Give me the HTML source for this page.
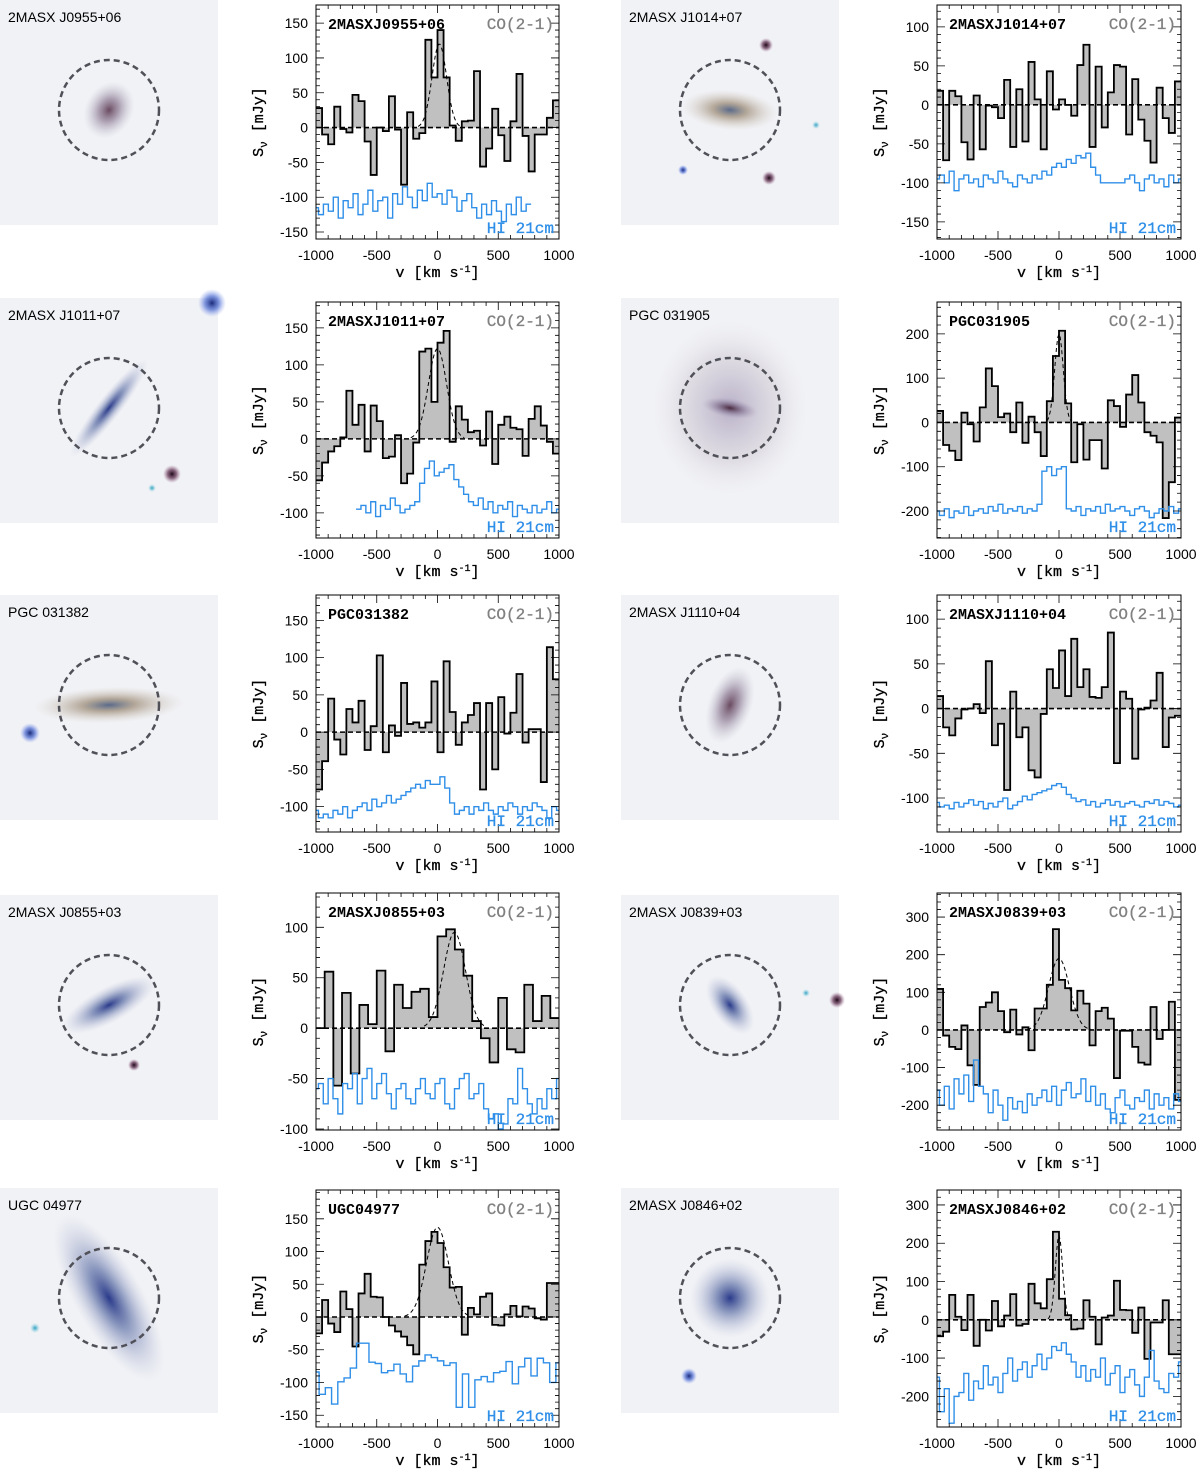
<!DOCTYPE html>
<html><head><meta charset="utf-8">
<style>
html,body{margin:0;padding:0;background:#fff;}
svg{display:block;}
text{font-family:"Liberation Sans",sans-serif;}
.mono{font-family:"Liberation Mono","DejaVu Sans Mono",monospace;}
</style></head>
<body>
<svg id="fig" xmlns="http://www.w3.org/2000/svg" width="1200" height="1479" viewBox="0 0 1200 1479">
<defs>
<radialGradient id="gbrown"><stop offset="0" stop-color="#6a4a60"/><stop offset="0.4" stop-color="#9a8aa0" stop-opacity="0.8"/><stop offset="1" stop-color="#c8c8d8" stop-opacity="0"/></radialGradient>
<radialGradient id="gtan"><stop offset="0" stop-color="#5a6a8a"/><stop offset="0.35" stop-color="#a89a88" stop-opacity="0.85"/><stop offset="1" stop-color="#d8d0c8" stop-opacity="0"/></radialGradient>
<radialGradient id="gblue"><stop offset="0" stop-color="#2a3a8a"/><stop offset="0.35" stop-color="#7080b0" stop-opacity="0.8"/><stop offset="1" stop-color="#c8cce0" stop-opacity="0"/></radialGradient>
<radialGradient id="ghalo"><stop offset="0" stop-color="#b8b0c8"/><stop offset="0.6" stop-color="#d8d4dc" stop-opacity="0.7"/><stop offset="1" stop-color="#e8e8ee" stop-opacity="0"/></radialGradient>
<radialGradient id="gbar"><stop offset="0" stop-color="#4a2a40"/><stop offset="0.5" stop-color="#8a7a98" stop-opacity="0.7"/><stop offset="1" stop-color="#b0a8c0" stop-opacity="0"/></radialGradient>
<radialGradient id="gstar"><stop offset="0" stop-color="#1a2a7a"/><stop offset="0.5" stop-color="#4a6ad0" stop-opacity="0.7"/><stop offset="1" stop-color="#8aa0f0" stop-opacity="0"/></radialGradient>
<radialGradient id="gdstar"><stop offset="0" stop-color="#200818"/><stop offset="0.5" stop-color="#603050" stop-opacity="0.7"/><stop offset="1" stop-color="#a07090" stop-opacity="0"/></radialGradient>
<radialGradient id="gcyan"><stop offset="0" stop-color="#2aa0c0"/><stop offset="1" stop-color="#8ad0e0" stop-opacity="0"/></radialGradient>
</defs>
</svg>
<script>
// ---------- data (CO 2-1 channel fluxes, HI 21cm spectra; mJy) ----------
const co1=[28,-10,-24,30,-2,-7,47,38,-20,-68,0,-5,45,-3,-82,22,-16,-8,126,72,140,72,3,-19,9,10,81,-56,-30,27,-11,-48,9,77,-12,-63,-10,-10,14,39];
const hi1=[-115,-125,-110,-120,-100,-130,-105,-115,-95,-125,-110,-90,-120,-105,-100,-130,-95,-110,-85,-100,-115,-90,-105,-80,-100,-95,-110,-90,-100,-120,-105,-95,-115,-130,-110,-125,-105,-120,-135,-110,-125,-100,-120,-110];
const co2=[18,-71,18,11,-48,-70,12,-57,-1,-3,-17,32,-54,20,-47,55,7,-57,43,-6,7,0,-14,51,77,-54,49,-29,16,51,49,-38,33,-19,-46,-74,22,-17,-36,30];
const hi2=[-95,-90,-100,-85,-110,-95,-90,-100,-95,-105,-90,-95,-100,-85,-95,-100,-105,-90,-95,-100,-90,-95,-85,-90,-80,-75,-80,-70,-75,-65,-68,-62,-80,-90,-100,-100,-100,-100,-100,-95,-90,-100,-110,-95,-90,-100,-95,-105,-90,-100,-95];
const co3=[-56,-32,-17,-10,2,65,19,46,-17,45,24,-26,-24,5,-60,-47,-5,118,122,50,130,146,-4,44,26,9,11,-9,37,-34,19,30,15,13,-23,27,44,18,-4,-20];
const hi3=[-95,-90,-100,-85,-105,-90,-95,-80,-90,-100,-95,-90,-85,-60,-40,-30,-50,-45,-40,-35,-55,-65,-75,-85,-90,-80,-95,-85,-100,-90,-95,-85,-105,-90,-95,-100,-90,-100,-95,-85,-100,-95];
const co4=[26,-51,-64,-85,22,-4,-43,34,122,82,12,20,-22,45,-46,13,-22,-76,48,150,207,43,-90,-4,-84,-40,-40,-104,50,37,-10,63,107,45,-22,-30,-45,-216,-135,11];
const hi4=[-200,-210,-195,-215,-200,-205,-190,-210,-200,-195,-205,-190,-200,-185,-205,-195,-200,-190,-205,-195,-200,-185,-110,-100,-120,-105,-100,-195,-200,-190,-210,-195,-200,-190,-205,-185,-200,-195,-190,-200,-210,-195,-190,-200,-215,-205,-195,-200,-190,-205,-195];
const co5=[-77,-39,45,-10,-30,31,13,42,-24,8,103,-27,9,-5,66,11,13,6,13,68,-27,95,27,-17,13,23,39,-77,39,-50,47,-2,26,78,-14,4,4,-67,114,71];
const hi5=[-105,-115,-110,-115,-105,-110,-100,-115,-105,-100,-95,-105,-90,-100,-95,-85,-95,-90,-85,-80,-75,-70,-75,-65,-70,-70,-60,-75,-95,-110,-105,-100,-110,-100,-105,-95,-105,-110,-100,-105,-95,-100,-110,-100,-105,-95,-100,-105,-115,-100,-105];
const co6=[14,-21,-30,-11,-1,0,5,-5,53,-41,-17,-91,19,-32,-21,-69,-77,-6,44,23,65,14,78,24,44,13,12,24,85,-61,19,11,-56,-1,1,9,40,-43,-10,-8];
const hi6=[-105,-110,-108,-112,-105,-110,-106,-102,-108,-104,-112,-106,-110,-104,-100,-112,-108,-104,-98,-102,-96,-94,-92,-90,-86,-84,-88,-96,-100,-104,-102,-108,-104,-110,-106,-102,-108,-104,-110,-106,-104,-108,-110,-104,-106,-102,-108,-104,-106,-110,-108];
const co7=[0,56,-57,35,-45,23,4,57,-23,43,20,36,39,11,91,98,78,52,7,-10,-34,30,-21,-24,43,7,32,10];
const hi7=[-60,-55,-75,-50,-70,-85,-55,-60,-45,-75,-50,-40,-70,-55,-45,-65,-80,-60,-55,-70,-75,-60,-50,-65,-70,-55,-50,-75,-80,-60,-50,-45,-70,-65,-55,-80,-90,-85,-100,-95,-70,-75,-40,-60,-75,-85,-70,-80,-60,-70,-50];
const co8=[109,-15,-45,-51,12,-94,-146,61,73,100,50,-6,54,-12,7,-54,57,57,120,268,133,111,52,104,70,-41,50,59,30,-128,-2,-2,-45,-87,-92,61,-24,0,75,-186];
const hi8=[-160,-200,-150,-210,-130,-170,-120,-190,-80,-150,-170,-220,-160,-200,-240,-180,-210,-190,-220,-170,-200,-180,-160,-190,-150,-200,-160,-140,-180,-170,-130,-190,-150,-200,-170,-210,-220,-180,-160,-200,-210,-180,-190,-160,-210,-170,-200,-180,-210,-170,-190];
const co9=[-25,26,-10,-23,39,12,-45,36,66,31,30,0,-13,-22,-30,-43,-57,80,116,130,113,76,45,46,-27,14,4,31,36,-12,-13,4,17,1,16,13,-2,-4,52,52];
const hi9=[-84,-118,-108,-133,-99,-93,-78,-40,-40,-69,-71,-85,-82,-72,-87,-99,-75,-67,-58,-62,-67,-74,-70,-138,-87,-138,-96,-91,-99,-85,-83,-68,-102,-76,-63,-90,-63,-70,-100,-70];
const co10=[-43,-31,65,8,-27,65,-68,0,-28,49,-17,11,67,-15,-11,94,43,30,106,230,55,12,-25,-23,51,8,-64,6,11,102,26,25,-34,32,-102,-7,-7,51,-90,-90];
const hi10=[-150,-240,-180,-270,-200,-190,-140,-210,-160,-180,-120,-170,-150,-190,-140,-100,-160,-130,-110,-150,-120,-90,-130,-100,-70,-80,-60,-90,-110,-150,-120,-160,-130,-150,-100,-170,-140,-120,-190,-150,-130,-170,-200,-150,-80,-160,-180,-190,-140,-150,-110];
// gaussian fits: [amplitude, centre, sigma]
const fit1=[120,15,60], fit3=[122,0,75], fit4=[200,0,35], fit7=[95,140,90], fit8=[190,0,85], fit9=[137,0,90], fit10=[220,0,30];
const names=["2MASXJ0955+06","2MASXJ1014+07","2MASXJ1011+07","PGC031905","PGC031382","2MASXJ1110+04","2MASXJ0855+03","2MASXJ0839+03","UGC04977","2MASXJ0846+02"];
const imgNames=["2MASX J0955+06","2MASX J1014+07","2MASX J1011+07","PGC 031905","PGC 031382","2MASX J1110+04","2MASX J0855+03","2MASX J0839+03","UGC 04977","2MASX J0846+02"];
const xTicks=[-1000,-500,0,500,1000];

const NS="http://www.w3.org/2000/svg";
const svg=document.getElementById('fig');
function mk(tag,attrs,parent){const e=document.createElementNS(NS,tag);for(const k in attrs)e.setAttribute(k,attrs[k]);(parent||svg).appendChild(e);return e;}

const rowTop=[5,302,595,893,1190], rowBot=[239,538,832,1130,1427];
const imgTop=[0,298,595,895,1188];
const panels=[
 {co:co1,hi:hi1,hi0:-1000,hi1:750,fit:fit1,ymin:-160,ymax:176,ts:50,t0:-150,t1:150},
 {co:co2,hi:hi2,hi0:-1000,hi1:1000,fit:null,ymin:-172,ymax:128,ts:50,t0:-150,t1:100},
 {co:co3,hi:hi3,hi0:-650,hi1:1000,fit:fit3,ymin:-134,ymax:185,ts:50,t0:-100,t1:150},
 {co:co4,hi:hi4,hi0:-1000,hi1:1000,fit:fit4,ymin:-261,ymax:272,ts:100,t0:-200,t1:200},
 {co:co5,hi:hi5,hi0:-1000,hi1:1000,fit:null,ymin:-134,ymax:184,ts:50,t0:-100,t1:150},
 {co:co6,hi:hi6,hi0:-1000,hi1:1000,fit:null,ymin:-138,ymax:127,ts:50,t0:-100,t1:100},
 {co:co7,hi:hi7,hi0:-1000,hi1:1000,fit:fit7,ymin:-101,ymax:134,ts:50,t0:-100,t1:100},
 {co:co8,hi:hi8,hi0:-1000,hi1:1000,fit:fit8,ymin:-266,ymax:364,ts:100,t0:-200,t1:300},
 {co:co9,hi:hi9,hi0:-1000,hi1:1000,fit:fit9,ymin:-168,ymax:194,ts:50,t0:-150,t1:150},
 {co:co10,hi:hi10,hi0:-1000,hi1:1000,fit:fit10,ymin:-280,ymax:339,ts:100,t0:-200,t1:300}
];
const galaxies=[
 {g:'gbrown',rx:24,ry:30,rot:30,extra:[]},
 {g:'gtan',rx:48,ry:20,rot:5,extra:[[145,45,7,'gdstar'],[148,178,7,'gdstar'],[62,170,5,'gstar'],[195,125,4,'gcyan']]},
 {g:'gblue',rx:12,ry:62,rot:38,extra:[[172,176,9,'gdstar'],[152,190,4,'gcyan'],[212,5,14,'gstar']]},
 {g:'ghalo',rx:78,ry:88,rot:0,extra:[],bar:true},
 {g:'gtan',rx:75,ry:18,rot:-2,extra:[[30,138,10,'gstar']]},
 {g:'gbrown',rx:22,ry:40,rot:20,extra:[]},
 {g:'gblue',rx:52,ry:18,rot:-28,extra:[[134,170,6,'gdstar']]},
 {g:'gblue',rx:18,ry:34,rot:-35,extra:[[216,105,8,'gdstar'],[185,98,4,'gcyan']]},
 {g:'gblue',rx:34,ry:95,rot:-30,extra:[[35,140,5,'gcyan']]},
 {g:'gblue',rx:40,ry:40,rot:0,extra:[[68,188,8,'gstar']]}
];

panels.forEach((p,i)=>{
  const col=i%2,row=Math.floor(i/2);
  const x0=col?937:316, x1=col?1181:559, y0=rowTop[row], y1=rowBot[row];
  const X=v=>x0+(v+1000)/2000*(x1-x0);
  const Y=f=>y1-(f-p.ymin)/(p.ymax-p.ymin)*(y1-y0);
  const g=mk('g',{});
  
  

  // --- galaxy image ---
  const ix=col?621:0, iy=imgTop[row];
  const gi=mk('g',{},svg);
  
  
  mk('rect',{x:ix,y:iy,width:218,height:225,fill:'#f1f2f6'},gi);
  const gal=galaxies[i];
  mk('ellipse',{cx:ix+109,cy:iy+110,rx:gal.rx,ry:gal.ry,fill:'url(#'+gal.g+')',transform:`rotate(${gal.rot} ${ix+109} ${iy+110})`},gi);
  if(gal.bar) mk('ellipse',{cx:ix+109,cy:iy+110,rx:28,ry:10,fill:'url(#gbar)',transform:`rotate(10 ${ix+109} ${iy+110})`},gi);
  gal.extra.forEach(s=>mk('circle',{cx:ix+s[0],cy:iy+s[1],r:s[2],fill:'url(#'+s[3]+')'},gi));
  const circ=mk('circle',{cx:ix+109,cy:iy+110,r:50,fill:'none',stroke:'#505058','stroke-width':2.5,'stroke-dasharray':'6,4'},gi);
  
  
  const lab=mk('text',{x:ix+8,y:iy+22,'font-size':14,fill:'#000'},gi);
  lab.textContent=imgNames[i];
  
  

  // --- CO histogram ---
  const n=p.co.length, dv=2000/n;
  let fillPath='', line='';
  p.co.forEach((f,k)=>{
    const a=X(-1000+k*dv), b=X(-1000+(k+1)*dv), yy=Y(f), z=Y(0);
    fillPath+=`M${a},${z}L${a},${yy}L${b},${yy}L${b},${z}Z`;
    line+=(k===0?`M${a},${yy}`:`L${a},${yy}`)+`L${b},${yy}`;
  });
  const fp=mk('path',{d:fillPath,fill:'#c0c0c0',stroke:'none'},g);
  
  
  const lp=mk('path',{d:line,fill:'none',stroke:'#000','stroke-width':1.8},g);
  
  
  const zl=mk('line',{x1:x0,x2:x1,y1:Y(0),y2:Y(0),stroke:'#000','stroke-width':1.6,'stroke-dasharray':'5,3'},g);
  
  

  // --- gaussian fit ---
  if(p.fit){
    let d='';
    for(let v=-1000;v<=1000;v+=10){
      const f=p.fit[0]*Math.exp(-0.5*Math.pow((v-p.fit[1])/p.fit[2],2));
      if(f<1.5) continue;
      d+=(d?'L':'M')+X(v)+','+Y(f);
    }
    const gp=mk('path',{d:d,fill:'none',stroke:'#000','stroke-width':1,'stroke-dasharray':'4,3'},g);
    
    
  }

  // --- HI spectrum ---
  const hstep=(p.hi1-p.hi0)/(p.hi.length-1);
  let hd='';
  p.hi.forEach((f,k)=>{
    const a=Math.max(x0,X(p.hi0+k*hstep-hstep/2)), b=Math.min(x1,X(p.hi0+k*hstep+hstep/2)), yy=Math.min(y1,Y(f));
    hd+=(k===0?`M${a},${yy}`:`L${a},${yy}`)+`L${b},${yy}`;
  });
  const hp=mk('path',{d:hd,fill:'none',stroke:'#2f8fe8','stroke-width':1.4},g);
  
  

  // --- frame & ticks ---
  const fr=mk('rect',{x:x0,y:y0,width:x1-x0,height:y1-y0,fill:'none',stroke:'#000','stroke-width':1},g);
  
  
  let tk='';
  for(let v=-1000;v<=1000;v+=100){const xx=X(v),L=(v%500===0)?8:4;tk+=`M${xx},${y1}v${-L}M${xx},${y0}v${L}`;}
  const ms=p.ts/5;
  for(let f=Math.ceil(p.ymin/ms)*ms;f<=p.ymax;f+=ms){const yy=Y(f),L=(Math.round(f)%p.ts===0)?8:4;tk+=`M${x0},${yy}h${L}M${x1},${yy}h${-L}`;}
  mk('path',{d:tk,stroke:'#000','stroke-width':0.8,fill:'none'},g);
  xTicks.forEach(v=>{
    const t=mk('text',{x:X(v),y:y1+21,'text-anchor':'middle','font-size':14},g);
    t.textContent=v;
    
    
  });
  for(let f=p.t0;f<=p.t1;f+=p.ts){
    const t=mk('text',{x:x0-8,y:Y(f)+5,'text-anchor':'end','font-size':14},g);
    t.textContent=f;
    
    
  }
  const xl=mk('text',{x:(x0+x1)/2,y:y1+38,'text-anchor':'middle','font-size':15,class:'mono',stroke:'#000','stroke-width':0.3},g);
  xl.innerHTML='v [km s<tspan dy="-5" font-size="10">-1</tspan><tspan dy="5">]</tspan>';
  
  
  const yc=(y0+y1)/2, yx=x0-53;
  const yl=mk('text',{x:yx,y:yc,'text-anchor':'middle','font-size':15,class:'mono',stroke:'#000','stroke-width':0.3,transform:`rotate(-90 ${yx} ${yc})`},g);
  yl.innerHTML='S<tspan dy="4" font-size="11">ν</tspan><tspan dy="-4"> [mJy]</tspan>';
  
  
  const tn=mk('text',{x:x0+12,y:y0+24,'font-size':15,'font-weight':'bold',class:'mono'},g);
  tn.textContent=names[i];
  
  
  const ct=mk('text',{x:x1-5,y:y0+24,'text-anchor':'end','font-size':16,fill:'#808080',class:'mono',stroke:'#808080','stroke-width':0.3},g);
  ct.textContent='CO(2-1)';
  
  
  const ht=mk('text',{x:x1-5,y:y1-6,'text-anchor':'end','font-size':16,fill:'#2f8fe8',class:'mono',stroke:'#2f8fe8','stroke-width':0.3},g);
  ht.textContent='HI 21cm';
  
  
});
</script>
</body></html>
